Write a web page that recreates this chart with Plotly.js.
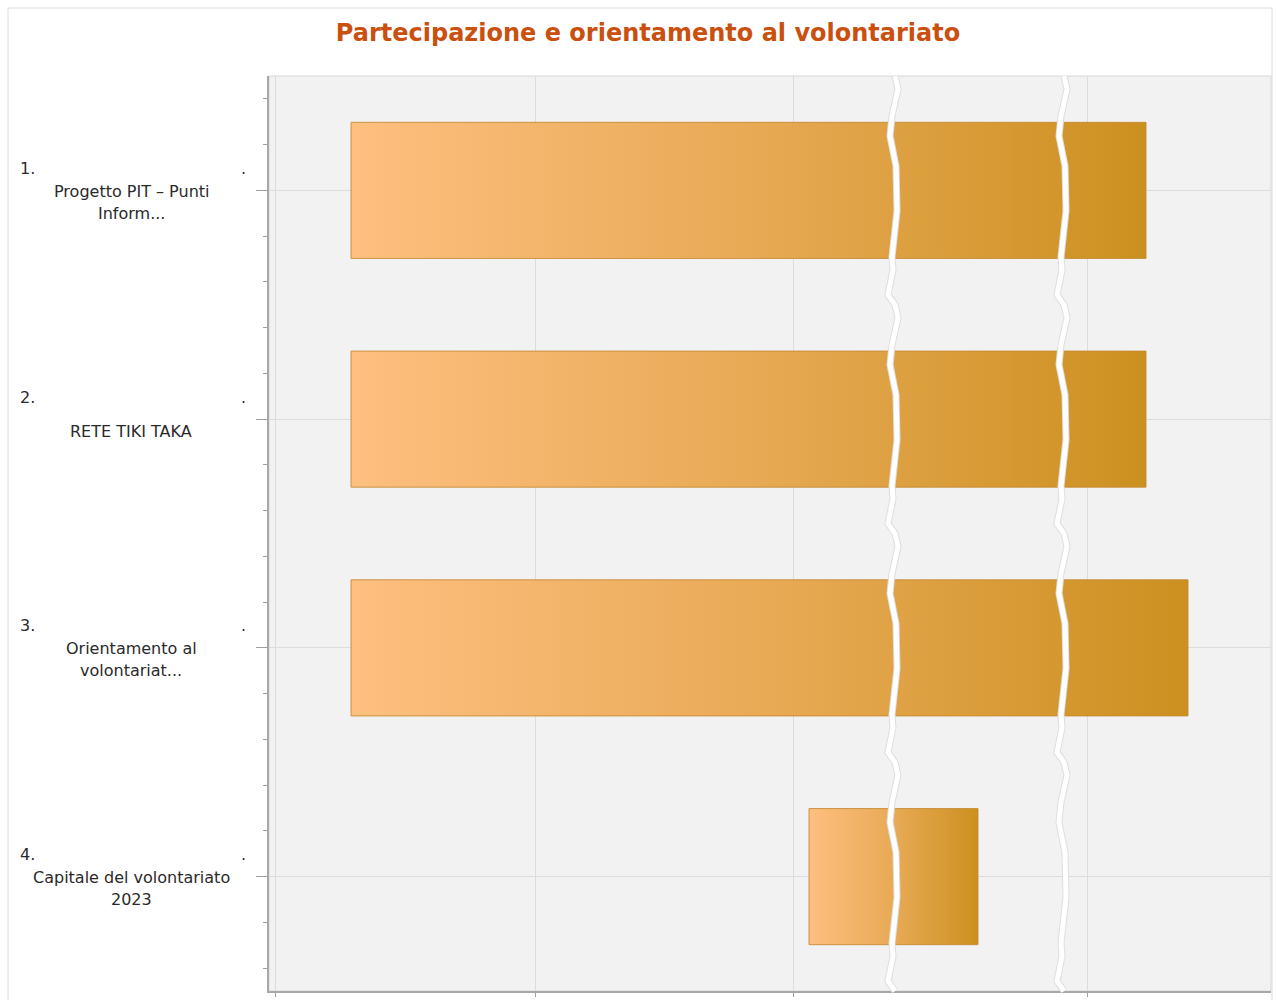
<!DOCTYPE html>
<html>
<head>
<meta charset="utf-8">
<script src="https://cdn.plot.ly/plotly-3.0.1.min.js"></script>
<style>html,body{margin:0;padding:0;background:#fff;}#chart{width:1276px;height:1000px;}</style>
</head>
<body>
<div id="chart"></div>
<script>
// ---- data ----
const categoryNumbers = ["1.", "2.", "3.", "4."];
const categoryLines = [
  ["Progetto PIT \u2013 Punti", "Inform..."],
  ["RETE TIKI TAKA"],
  ["Orientamento al", "volontariat..."],
  ["Capitale del volontariato", "2023"]
];
const barStart = [8.2, 8.2, 8.2, 54.0];
const barEnd = [87.7, 87.7, 91.9, 70.9];
const xGridTicks = [0.6, 26.6, 52.4, 81.8];
const axisBreaks = [62.4, 79.3];
const titleText = "Partecipazione e orientamento al volontariato";

// ---- geometry helpers (style only) ----
const W = 1276, H = 1000;
const mL = 269, mR = 5, mT = 76, mB = 9;
const plotW = W - mL - mR, plotH = H - mT - mB;
const xRange = [0, plotW / 10];
const pxToX = p => p / 10;           // pixel offset -> x units
const pyToPaper = py => 1 - (py - mT) / plotH;
const pxToPaper = px => (px - mL) / plotW;

const halfH = 0.2975;
const traces = categoryNumbers.map((c, i) => ({
  type: "scatter",
  mode: "lines",
  x: [barStart[i], barEnd[i], barEnd[i], barStart[i], barStart[i]],
  y: [i - halfH, i - halfH, i + halfH, i + halfH, i - halfH],
  fill: "toself",
  fillgradient: {type: "horizontal", colorscale: [[0, "#FEBF80"], [0.5, "#E8AA55"], [1, "#CC9020"]]},
  line: {color: "rgba(196,136,48,0.85)", width: 1},
  hoverinfo: "skip",
  showlegend: false
}));

// wavy break paths
const wave = [[0, 2], [13, 5], [40, -1], [60, -3], [90, 3], [135, 4], [181, -1], [194, 0], [219, -5]];
function breakPath(xv) {
  const pts = [];
  const cat = plotH / 4;
  for (let k = 0; k < 4; k++) {
    wave.forEach(([dy, dx]) => pts.push([xv + pxToX(dx), pyToPaper(mT + k * cat + dy)]));
  }
  pts.push([xv + pxToX(2), 0]);
  return "M " + pts.map(p => p[0].toFixed(3) + "," + p[1].toFixed(4)).join(" L ");
}
const shapes = [];
// outer frame
shapes.push({type: "rect", xref: "paper", yref: "paper", x0: pxToPaper(8), x1: pxToPaper(1272), y0: pyToPaper(1010), y1: pyToPaper(8),
  line: {color: "#DCDCDC", width: 1}, fillcolor: "rgba(0,0,0,0)", layer: "below"});
// light plot border (top/right)
shapes.push({type: "rect", xref: "paper", yref: "paper", x0: 0, x1: 1, y0: 0, y1: 1,
  line: {color: "#D8D8D8", width: 1}, fillcolor: "rgba(0,0,0,0)", layer: "below"});
axisBreaks.forEach(b => {
  shapes.push({type: "path", xref: "x", yref: "paper", path: breakPath(b), line: {color: "#DEDEDE", width: 7}, layer: "above"});
  shapes.push({type: "path", xref: "x", yref: "paper", path: breakPath(b), line: {color: "#FFFFFF", width: 5}, layer: "above"});
});

const lblFont = {family: "DejaVu Sans, Verdana, sans-serif", size: 16, color: "#2A2A2A"};
const annotations = [];
categoryNumbers.forEach((n, i) => {
  annotations.push({xref: "paper", yref: "y", x: pxToPaper(18), y: i, xanchor: "left", yanchor: "middle",
    yshift: 22, text: n, showarrow: false, font: lblFont});
  annotations.push({xref: "paper", yref: "y", x: pxToPaper(243), y: i, xanchor: "center", yanchor: "middle",
    yshift: 22, text: ".", showarrow: false, font: lblFont});
  const lines = categoryLines[i];
  lines.forEach((t, j) => {
    const off = (j - (lines.length - 1) / 2) * 22 + 12;
    annotations.push({xref: "paper", yref: "y", x: pxToPaper(131), y: i, xanchor: "center", yanchor: "middle",
      yshift: -off, text: t, showarrow: false, font: lblFont});
  });
});

const layout = {
  width: W, height: H,
  margin: {l: mL, r: mR, t: mT, b: mB, pad: 0},
  paper_bgcolor: "#FFFFFF",
  plot_bgcolor: "#F2F2F2",
  title: {text: titleText, x: 648 / W, xref: "container", xanchor: "center", y: 1 - 33 / H, yref: "container", yanchor: "middle",
    font: {family: "DejaVu Sans, Verdana, sans-serif", size: 24, weight: "bold", color: "#C9500F"}},
  xaxis: {range: xRange, tickmode: "array", tickvals: xGridTicks, showticklabels: false,
    ticks: "outside", ticklen: 4, tickcolor: "#A0A0A0", tickwidth: 1,
    showgrid: true, gridcolor: "#DCDCDC", gridwidth: 1, zeroline: false,
    showline: true, linecolor: "#A8A8A8", linewidth: 2, fixedrange: true},
  yaxis: {range: [3.5, -0.5], tickmode: "array", tickvals: [0, 1, 2, 3], showticklabels: false,
    ticks: "outside", ticklen: 11, tickcolor: "#A0A0A0", tickwidth: 1,
    minor: {tickmode: "linear", tick0: 0, dtick: 0.2, ticks: "outside", ticklen: 4, tickcolor: "#A0A0A0", showgrid: false},
    showgrid: true, gridcolor: "#DCDCDC", gridwidth: 1, zeroline: false,
    showline: true, linecolor: "#A8A8A8", linewidth: 2, fixedrange: true},
  shapes: shapes,
  annotations: annotations,
  showlegend: false
};
Plotly.newPlot("chart", traces, layout, {displayModeBar: false, staticPlot: true});
</script>
</body>
</html>
